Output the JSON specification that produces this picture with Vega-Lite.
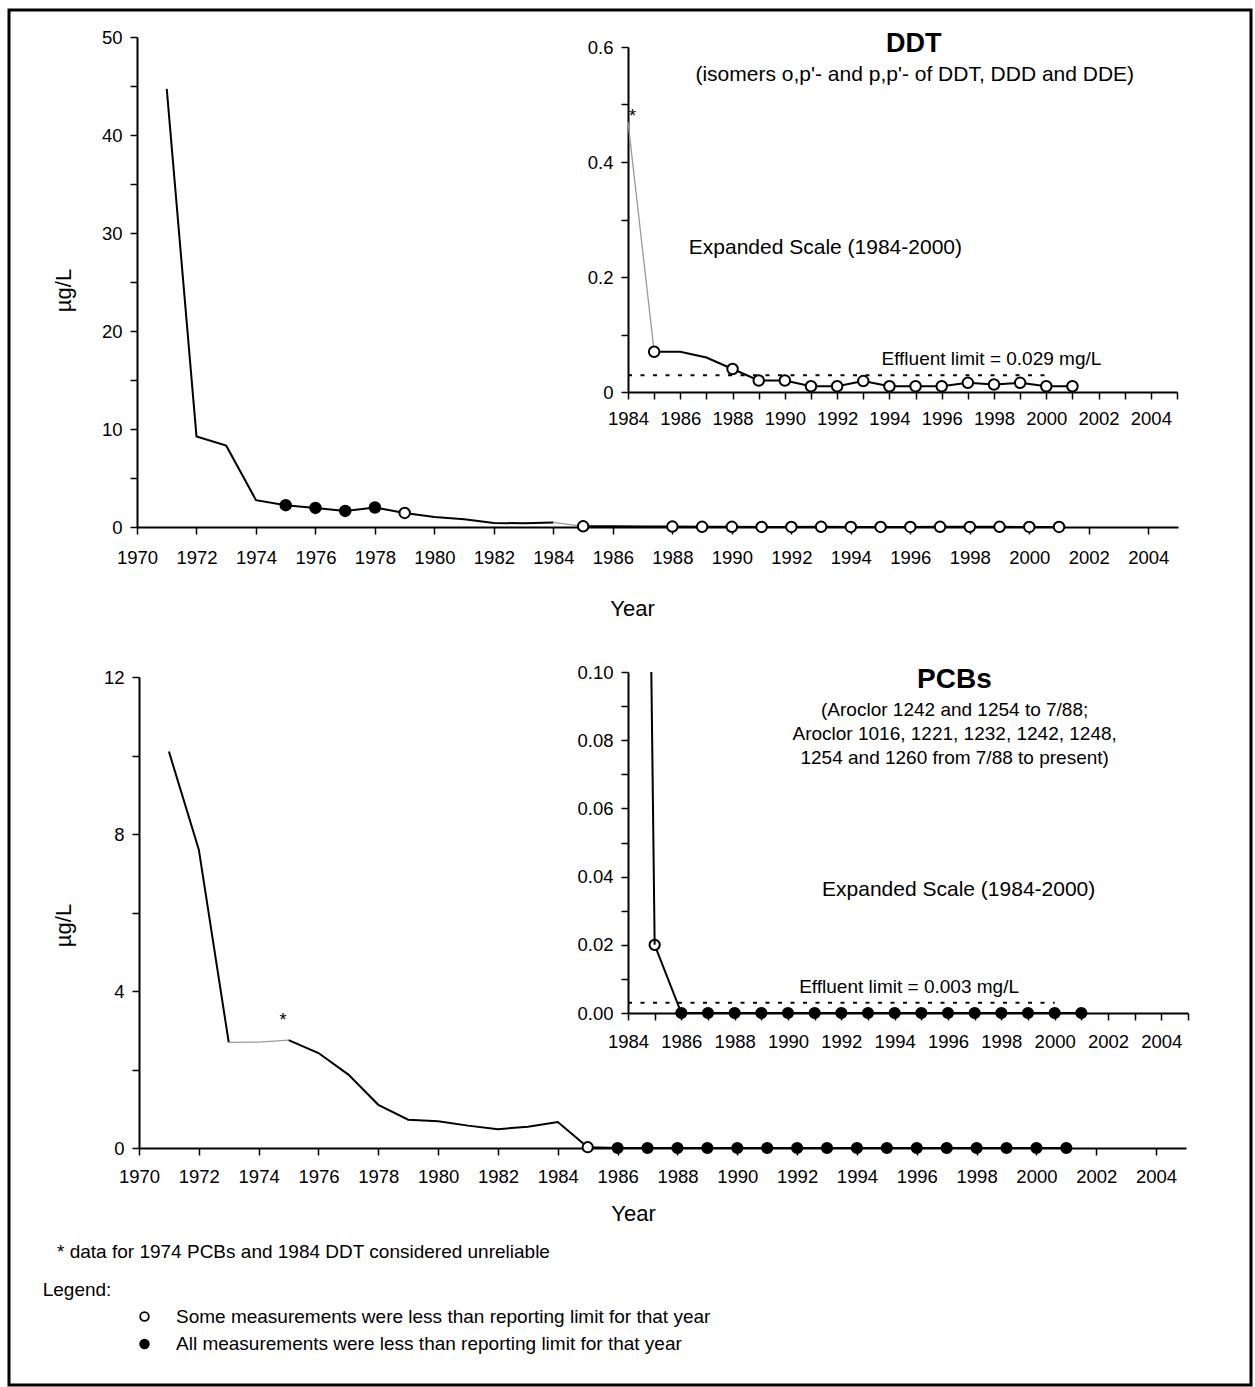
{
  "$schema": "https://vega.github.io/schema/vega-lite/v6.json",
  "autosize": {"type": "none"},
  "padding": {"left": 9, "top": 10, "right": 4, "bottom": 2},
  "width": 1242,
  "height": 1375,
  "background": "white",
  "config": {
    "font": "Liberation Sans",
    "view": {"stroke": "black", "strokeWidth": 3},
    "axis": {
      "grid": false, "domainColor": "black", "domainWidth": 2, "tickColor": "black", "tickWidth": 1.5, "tickSize": 7,
      "labelColor": "black", "labelFont": "Liberation Sans", "labelFontSize": 18.5, "labelFlush": false, "labelOverlap": false,
      "labelBound": false, "titleColor": "black", "titleFont": "Liberation Sans", "titleFontSize": 22, "titleFontWeight": "normal"
    },
    "axisY": {"labelPadding": 8},
    "text": {"font": "Liberation Sans", "color": "black"}
  },
  "datasets": {
    "ddt": [
      {"year": 1971, "value": 44.7, "part": 1, "quality": "reliable", "status": ""},
      {"year": 1972, "value": 9.24, "part": 1, "quality": "reliable", "status": ""},
      {"year": 1973, "value": 8.3, "part": 1, "quality": "reliable", "status": ""},
      {"year": 1974, "value": 2.74, "part": 1, "quality": "reliable", "status": ""},
      {"year": 1975, "value": 2.23, "part": 1, "quality": "reliable", "status": "all"},
      {"year": 1976, "value": 1.95, "part": 1, "quality": "reliable", "status": "all"},
      {"year": 1977, "value": 1.64, "part": 1, "quality": "reliable", "status": "all"},
      {"year": 1978, "value": 1.99, "part": 1, "quality": "reliable", "status": "all"},
      {"year": 1979, "value": 1.44, "part": 1, "quality": "reliable", "status": "some"},
      {"year": 1980, "value": 1.03, "part": 1, "quality": "reliable", "status": ""},
      {"year": 1981, "value": 0.79, "part": 1, "quality": "reliable", "status": ""},
      {"year": 1982, "value": 0.41, "part": 1, "quality": "reliable", "status": ""},
      {"year": 1983, "value": 0.38, "part": 1, "quality": "reliable", "status": ""},
      {"year": 1984, "value": 0.47, "part": 1, "quality": "reliable", "status": ""},
      {"year": 1984, "value": 0.47, "part": 2, "quality": "unreliable", "status": ""},
      {"year": 1985, "value": 0.07, "part": 2, "quality": "unreliable", "status": ""},
      {"year": 1985, "value": 0.07, "part": 3, "quality": "reliable", "status": "some"},
      {"year": 1986, "value": 0.07, "part": 3, "quality": "reliable", "status": ""},
      {"year": 1987, "value": 0.06, "part": 3, "quality": "reliable", "status": ""},
      {"year": 1988, "value": 0.04, "part": 3, "quality": "reliable", "status": "some"},
      {"year": 1989, "value": 0.02, "part": 3, "quality": "reliable", "status": "some"},
      {"year": 1990, "value": 0.02, "part": 3, "quality": "reliable", "status": "some"},
      {"year": 1991, "value": 0.01, "part": 3, "quality": "reliable", "status": "some"},
      {"year": 1992, "value": 0.01, "part": 3, "quality": "reliable", "status": "some"},
      {"year": 1993, "value": 0.019, "part": 3, "quality": "reliable", "status": "some"},
      {"year": 1994, "value": 0.01, "part": 3, "quality": "reliable", "status": "some"},
      {"year": 1995, "value": 0.01, "part": 3, "quality": "reliable", "status": "some"},
      {"year": 1996, "value": 0.01, "part": 3, "quality": "reliable", "status": "some"},
      {"year": 1997, "value": 0.016, "part": 3, "quality": "reliable", "status": "some"},
      {"year": 1998, "value": 0.013, "part": 3, "quality": "reliable", "status": "some"},
      {"year": 1999, "value": 0.016, "part": 3, "quality": "reliable", "status": "some"},
      {"year": 2000, "value": 0.01, "part": 3, "quality": "reliable", "status": "some"},
      {"year": 2001, "value": 0.01, "part": 3, "quality": "reliable", "status": "some"}
    ],
    "pcb": [
      {"year": 1971, "value": 10.1, "part": 1, "quality": "reliable", "status": ""},
      {"year": 1972, "value": 7.6, "part": 1, "quality": "reliable", "status": ""},
      {"year": 1973, "value": 2.69, "part": 1, "quality": "reliable", "status": ""},
      {"year": 1973, "value": 2.69, "part": 2, "quality": "unreliable", "status": ""},
      {"year": 1974, "value": 2.7, "part": 2, "quality": "unreliable", "status": ""},
      {"year": 1975, "value": 2.75, "part": 2, "quality": "unreliable", "status": ""},
      {"year": 1975, "value": 2.75, "part": 3, "quality": "reliable", "status": ""},
      {"year": 1976, "value": 2.42, "part": 3, "quality": "reliable", "status": ""},
      {"year": 1977, "value": 1.87, "part": 3, "quality": "reliable", "status": ""},
      {"year": 1978, "value": 1.1, "part": 3, "quality": "reliable", "status": ""},
      {"year": 1979, "value": 0.72, "part": 3, "quality": "reliable", "status": ""},
      {"year": 1980, "value": 0.68, "part": 3, "quality": "reliable", "status": ""},
      {"year": 1981, "value": 0.57, "part": 3, "quality": "reliable", "status": ""},
      {"year": 1982, "value": 0.48, "part": 3, "quality": "reliable", "status": ""},
      {"year": 1983, "value": 0.54, "part": 3, "quality": "reliable", "status": ""},
      {"year": 1984, "value": 0.66, "part": 3, "quality": "reliable", "status": ""},
      {"year": 1985, "value": 0.02, "part": 3, "quality": "reliable", "status": "some"},
      {"year": 1986, "value": 0, "part": 3, "quality": "reliable", "status": "all"},
      {"year": 1987, "value": 0, "part": 3, "quality": "reliable", "status": "all"},
      {"year": 1988, "value": 0, "part": 3, "quality": "reliable", "status": "all"},
      {"year": 1989, "value": 0, "part": 3, "quality": "reliable", "status": "all"},
      {"year": 1990, "value": 0, "part": 3, "quality": "reliable", "status": "all"},
      {"year": 1991, "value": 0, "part": 3, "quality": "reliable", "status": "all"},
      {"year": 1992, "value": 0, "part": 3, "quality": "reliable", "status": "all"},
      {"year": 1993, "value": 0, "part": 3, "quality": "reliable", "status": "all"},
      {"year": 1994, "value": 0, "part": 3, "quality": "reliable", "status": "all"},
      {"year": 1995, "value": 0, "part": 3, "quality": "reliable", "status": "all"},
      {"year": 1996, "value": 0, "part": 3, "quality": "reliable", "status": "all"},
      {"year": 1997, "value": 0, "part": 3, "quality": "reliable", "status": "all"},
      {"year": 1998, "value": 0, "part": 3, "quality": "reliable", "status": "all"},
      {"year": 1999, "value": 0, "part": 3, "quality": "reliable", "status": "all"},
      {"year": 2000, "value": 0, "part": 3, "quality": "reliable", "status": "all"},
      {"year": 2001, "value": 0, "part": 3, "quality": "reliable", "status": "all"}
    ]
  },
  "resolve": {"scale": {"x": "independent", "y": "independent"}, "axis": {"x": "independent", "y": "independent"}},
  "layer": [
    {
      "layer": [
        {"data": {"name": "ddt"}, "transform": [{"filter": "datum.quality == 'reliable'"}], "mark": {"type": "line", "color": "black", "strokeWidth": 2},
          "encoding": {
            "x": {"field": "year", "type": "quantitative", "scale": {"domain": [1970, 2005], "range": [128, 1169]},
              "axis": {"orient": "bottom", "offset": -858, "labelPadding": 14, "values": [1970,1971,1972,1973,1974,1975,1976,1977,1978,1979,1980,1981,1982,1983,1984,1985,1986,1987,1988,1989,1990,1991,1992,1993,1994,1995,1996,1997,1998,1999,2000,2001,2002,2003,2004,2005],
                "format": "d", "labelExpr": "datum.value % 2 == 0 && datum.value < 2005 ? datum.label : ''", "title": "Year", "titleX": 623, "titleY": 81, "titleBaseline": "middle", "titleAlign": "center"}},
            "y": {"field": "value", "type": "quantitative", "scale": {"domain": [0, 50], "range": [517, 27]},
              "axis": {"orient": "left", "offset": -128, "values": [0,5,10,15,20,25,30,35,40,45,50], "format": "d", "labelExpr": "datum.value % 10 == 0 ? datum.label : ''",
                "title": "µg/L", "titleX": -74, "titleY": 280, "titleAngle": 270, "titleAlign": "center", "titleBaseline": "middle"}},
            "detail": {"field": "part"}}},
        {"data": {"name": "ddt"}, "transform": [{"filter": "datum.quality == 'unreliable'"}], "mark": {"type": "line", "color": "#999999", "strokeWidth": 1.3},
          "encoding": {
            "x": {"field": "year", "type": "quantitative", "scale": {"domain": [1970, 2005], "range": [128, 1169]}},
            "y": {"field": "value", "type": "quantitative", "scale": {"domain": [0, 50], "range": [517, 27]}},
            "detail": {"field": "part"}}},
        {"data": {"name": "ddt"}, "transform": [{"filter": "datum.status != ''"}], "mark": {"type": "point", "filled": true, "size": 110, "stroke": "black", "strokeWidth": 2, "opacity": 1},
          "encoding": {
            "x": {"field": "year", "type": "quantitative", "scale": {"domain": [1970, 2005], "range": [128, 1169]}},
            "y": {"field": "value", "type": "quantitative", "scale": {"domain": [0, 50], "range": [517, 27]}},
            "fill": {"field": "status", "type": "nominal", "scale": {"domain": ["some", "all"], "range": ["white", "black"]},
              "legend": {"title": null, "orient": "none", "legendX": 126, "legendY": 1297, "padding": 0, "symbolType": "circle", "symbolSize": 75, "symbolStrokeColor": "black", "symbolStrokeWidth": 1.8,
                "labelFontSize": 19, "labelFont": "Liberation Sans", "labelColor": "black", "labelOffset": 22, "labelLimit": 900, "rowPadding": 7.5,
                "labelExpr": "datum.value == 'some' ? 'Some measurements were less than reporting limit for that year' : 'All measurements were less than reporting limit for that year'"}}}}
      ]
    },
    {
      "layer": [
        {"data": {"name": "ddt"}, "transform": [{"filter": "datum.year >= 1984 && datum.quality == 'reliable'"}], "mark": {"type": "line", "color": "black", "strokeWidth": 2},
          "encoding": {
            "x": {"field": "year", "type": "quantitative", "scale": {"domain": [1984, 2005], "range": [619, 1168]},
              "axis": {"orient": "bottom", "offset": -993, "labelPadding": 10.5, "values": [1984,1985,1986,1987,1988,1989,1990,1991,1992,1993,1994,1995,1996,1997,1998,1999,2000,2001,2002,2003,2004,2005],
                "format": "d", "labelExpr": "datum.value % 2 == 0 && datum.value < 2005 ? datum.label : ''", "title": null}},
            "y": {"field": "value", "type": "quantitative", "scale": {"domain": [0, 0.6], "range": [382, 37]},
              "axis": {"orient": "left", "offset": -619, "values": [0,0.1,0.2,0.3,0.4,0.5,0.6], "format": "~g", "labelExpr": "indexof([0,0.2,0.4,0.6], datum.value) >= 0 ? datum.label : ''", "title": null}},
            "detail": {"field": "part"}}},
        {"data": {"name": "ddt"}, "transform": [{"filter": "datum.year >= 1984 && datum.quality == 'unreliable'"}], "mark": {"type": "line", "color": "#999999", "strokeWidth": 1.3},
          "encoding": {
            "x": {"field": "year", "type": "quantitative", "scale": {"domain": [1984, 2005], "range": [619, 1168]}},
            "y": {"field": "value", "type": "quantitative", "scale": {"domain": [0, 0.6], "range": [382, 37]}},
            "detail": {"field": "part"}}},
        {"data": {"values": [{}]}, "mark": {"type": "rule", "strokeDash": [4, 8.5], "strokeWidth": 2, "color": "black"},
          "encoding": {"x": {"datum": 1984, "type": "quantitative", "scale": {"domain": [1984, 2005], "range": [619, 1168]}}, "x2": {"datum": 2000},
            "y": {"datum": 0.029, "type": "quantitative", "scale": {"domain": [0, 0.6], "range": [382, 37]}}}},
        {"data": {"name": "ddt"}, "transform": [{"filter": "datum.year >= 1984 && datum.status != ''"}], "mark": {"type": "point", "filled": true, "size": 110, "stroke": "black", "strokeWidth": 2, "opacity": 1},
          "encoding": {
            "x": {"field": "year", "type": "quantitative", "scale": {"domain": [1984, 2005], "range": [619, 1168]}},
            "y": {"field": "value", "type": "quantitative", "scale": {"domain": [0, 0.6], "range": [382, 37]}},
            "fill": {"field": "status", "type": "nominal", "scale": {"domain": ["some", "all"], "range": ["white", "black"]}}}},
        {"data": {"values": [{}]}, "mark": {"type": "text", "text": "DDT", "fontSize": 27, "fontWeight": "bold", "align": "center", "baseline": "middle"},
          "encoding": {"x": {"datum": 1994.93, "type": "quantitative", "scale": {"domain": [1984, 2005], "range": [619, 1168]}}, "y": {"datum": 0.606, "type": "quantitative", "scale": {"domain": [0, 0.6], "range": [382, 37]}}}},
        {"data": {"values": [{}]}, "mark": {"type": "text", "text": "(isomers o,p'- and p,p'- of DDT, DDD and DDE)", "fontSize": 21, "align": "center", "baseline": "middle"},
          "encoding": {"x": {"datum": 1994.97, "type": "quantitative", "scale": {"domain": [1984, 2005], "range": [619, 1168]}}, "y": {"datum": 0.551, "type": "quantitative", "scale": {"domain": [0, 0.6], "range": [382, 37]}}}},
        {"data": {"values": [{}]}, "mark": {"type": "text", "text": "Expanded Scale (1984-2000)", "fontSize": 21, "align": "center", "baseline": "middle"},
          "encoding": {"x": {"datum": 1991.55, "type": "quantitative", "scale": {"domain": [1984, 2005], "range": [619, 1168]}}, "y": {"datum": 0.2504, "type": "quantitative", "scale": {"domain": [0, 0.6], "range": [382, 37]}}}},
        {"data": {"values": [{}]}, "mark": {"type": "text", "text": "Effluent limit = 0.029 mg/L", "fontSize": 19, "align": "center", "baseline": "middle"},
          "encoding": {"x": {"datum": 1997.9, "type": "quantitative", "scale": {"domain": [1984, 2005], "range": [619, 1168]}}, "y": {"datum": 0.0574, "type": "quantitative", "scale": {"domain": [0, 0.6], "range": [382, 37]}}}},
        {"data": {"values": [{}]}, "mark": {"type": "text", "text": "*", "fontSize": 18, "align": "center", "baseline": "alphabetic"},
          "encoding": {"x": {"datum": 1984.17, "type": "quantitative", "scale": {"domain": [1984, 2005], "range": [619, 1168]}}, "y": {"datum": 0.47, "type": "quantitative", "scale": {"domain": [0, 0.6], "range": [382, 37]}}}}
      ]
    },
    {
      "layer": [
        {"data": {"name": "pcb"}, "transform": [{"filter": "datum.quality == 'reliable'"}], "mark": {"type": "line", "color": "black", "strokeWidth": 2},
          "encoding": {
            "x": {"field": "year", "type": "quantitative", "scale": {"domain": [1970, 2005], "range": [130, 1177]},
              "axis": {"orient": "bottom", "offset": -237, "labelPadding": 12.5, "values": [1970,1971,1972,1973,1974,1975,1976,1977,1978,1979,1980,1981,1982,1983,1984,1985,1986,1987,1988,1989,1990,1991,1992,1993,1994,1995,1996,1997,1998,1999,2000,2001,2002,2003,2004,2005],
                "format": "d", "labelExpr": "datum.value % 2 == 0 && datum.value < 2005 ? datum.label : ''", "title": "Year", "titleX": 624, "titleY": 65, "titleBaseline": "middle", "titleAlign": "center"}},
            "y": {"field": "value", "type": "quantitative", "scale": {"domain": [0, 12], "range": [1138, 667]},
              "axis": {"orient": "left", "offset": -130, "values": [0,2,4,6,8,10,12], "format": "d", "labelExpr": "datum.value % 4 == 0 ? datum.label : ''",
                "title": "µg/L", "titleX": -76, "titleY": 915, "titleAngle": 270, "titleAlign": "center", "titleBaseline": "middle"}},
            "detail": {"field": "part"}}},
        {"data": {"name": "pcb"}, "transform": [{"filter": "datum.quality == 'unreliable'"}], "mark": {"type": "line", "color": "#9a9a9a", "strokeWidth": 1.3},
          "encoding": {
            "x": {"field": "year", "type": "quantitative", "scale": {"domain": [1970, 2005], "range": [130, 1177]}},
            "y": {"field": "value", "type": "quantitative", "scale": {"domain": [0, 12], "range": [1138, 667]}},
            "detail": {"field": "part"}}},
        {"data": {"name": "pcb"}, "transform": [{"filter": "datum.status != ''"}], "mark": {"type": "point", "filled": true, "size": 105, "stroke": "black", "strokeWidth": 2, "opacity": 1},
          "encoding": {
            "x": {"field": "year", "type": "quantitative", "scale": {"domain": [1970, 2005], "range": [130, 1177]}},
            "y": {"field": "value", "type": "quantitative", "scale": {"domain": [0, 12], "range": [1138, 667]}},
            "fill": {"field": "status", "type": "nominal", "scale": {"domain": ["some", "all"], "range": ["white", "black"]}}}},
        {"data": {"values": [{}]}, "mark": {"type": "text", "text": "*", "fontSize": 18, "align": "center", "baseline": "alphabetic"},
          "encoding": {"x": {"datum": 1974.81, "type": "quantitative", "scale": {"domain": [1970, 2005], "range": [130, 1177]}}, "y": {"datum": 3.1, "type": "quantitative", "scale": {"domain": [0, 12], "range": [1138, 667]}}}},
        {"data": {"values": [{}]}, "mark": {"type": "text", "text": "* data for 1974 PCBs and 1984 DDT considered unreliable", "fontSize": 19, "align": "left", "baseline": "middle"},
          "encoding": {"x": {"datum": 1967.26, "type": "quantitative", "scale": {"domain": [1970, 2005], "range": [130, 1177]}}, "y": {"datum": -2.642, "type": "quantitative", "scale": {"domain": [0, 12], "range": [1138, 667]}}}},
        {"data": {"values": [{}]}, "mark": {"type": "text", "text": "Legend:", "fontSize": 19, "align": "left", "baseline": "middle"},
          "encoding": {"x": {"datum": 1966.78, "type": "quantitative", "scale": {"domain": [1970, 2005], "range": [130, 1177]}}, "y": {"datum": -3.618, "type": "quantitative", "scale": {"domain": [0, 12], "range": [1138, 667]}}}}
      ]
    },
    {
      "layer": [
        {"data": {"name": "pcb"}, "transform": [{"filter": "datum.year >= 1985 && datum.quality == 'reliable'"}], "mark": {"type": "line", "color": "black", "strokeWidth": 2},
          "encoding": {
            "x": {"field": "year", "type": "quantitative", "scale": {"domain": [1984, 2005], "range": [619, 1179]},
              "axis": {"orient": "bottom", "offset": -372, "labelPadding": 12.5, "values": [1984,1985,1986,1987,1988,1989,1990,1991,1992,1993,1994,1995,1996,1997,1998,1999,2000,2001,2002,2003,2004,2005],
                "format": "d", "labelExpr": "datum.value % 2 == 0 && datum.value < 2005 ? datum.label : ''", "title": null}},
            "y": {"field": "value", "type": "quantitative", "scale": {"domain": [0, 0.1], "range": [1003, 662]},
              "axis": {"orient": "left", "offset": -619, "values": [0,0.01,0.02,0.03,0.04,0.05,0.06,0.07,0.08,0.09,0.1], "format": ".2f", "labelExpr": "indexof([0,0.02,0.04,0.06,0.08,0.1], datum.value) >= 0 ? datum.label : ''", "title": null}},
            "detail": {"field": "part"}}},
        {"data": {"values": [{}]}, "mark": {"type": "rule", "strokeDash": [4, 8.5], "strokeWidth": 2, "color": "black"},
          "encoding": {"x": {"datum": 1984, "type": "quantitative", "scale": {"domain": [1984, 2005], "range": [619, 1179]}}, "x2": {"datum": 2000},
            "y": {"datum": 0.003, "type": "quantitative", "scale": {"domain": [0, 0.1], "range": [1003, 662]}}}},
        {"data": {"name": "pcb"}, "transform": [{"filter": "datum.year >= 1984 && datum.status != ''"}], "mark": {"type": "point", "filled": true, "size": 105, "stroke": "black", "strokeWidth": 2, "opacity": 1},
          "encoding": {
            "x": {"field": "year", "type": "quantitative", "scale": {"domain": [1984, 2005], "range": [619, 1179]}},
            "y": {"field": "value", "type": "quantitative", "scale": {"domain": [0, 0.1], "range": [1003, 662]}},
            "fill": {"field": "status", "type": "nominal", "scale": {"domain": ["some", "all"], "range": ["white", "black"]}}}},
        {"data": {"values": [{}]}, "mark": {"type": "text", "text": "PCBs", "fontSize": 28, "fontWeight": "bold", "align": "center", "baseline": "middle"},
          "encoding": {"x": {"datum": 1996.24, "type": "quantitative", "scale": {"domain": [1984, 2005], "range": [619, 1179]}}, "y": {"datum": 0.09765, "type": "quantitative", "scale": {"domain": [0, 0.1], "range": [1003, 662]}}}},
        {"data": {"values": [{}]}, "mark": {"type": "text", "text": ["(Aroclor 1242 and 1254 to 7/88;", "Aroclor 1016, 1221, 1232, 1242, 1248,", "1254 and 1260 from 7/88 to present)"], "fontSize": 19, "lineHeight": 24, "align": "center", "baseline": "middle"},
          "encoding": {"x": {"datum": 1996.25, "type": "quantitative", "scale": {"domain": [1984, 2005], "range": [619, 1179]}}, "y": {"datum": 0.08886, "type": "quantitative", "scale": {"domain": [0, 0.1], "range": [1003, 662]}}}},
        {"data": {"values": [{}]}, "mark": {"type": "text", "text": "Expanded Scale (1984-2000)", "fontSize": 21, "align": "center", "baseline": "middle"},
          "encoding": {"x": {"datum": 1996.4, "type": "quantitative", "scale": {"domain": [1984, 2005], "range": [619, 1179]}}, "y": {"datum": 0.03607, "type": "quantitative", "scale": {"domain": [0, 0.1], "range": [1003, 662]}}}},
        {"data": {"values": [{}]}, "mark": {"type": "text", "text": "Effluent limit = 0.003 mg/L", "fontSize": 19, "align": "center", "baseline": "middle"},
          "encoding": {"x": {"datum": 1994.54, "type": "quantitative", "scale": {"domain": [1984, 2005], "range": [619, 1179]}}, "y": {"datum": 0.00771, "type": "quantitative", "scale": {"domain": [0, 0.1], "range": [1003, 662]}}}}
      ]
    },
    {
      "layer": [
        {"data": {"name": "pcb"}, "transform": [{"filter": "datum.year >= 1984 && datum.year <= 1985"}], "mark": {"type": "line", "color": "black", "strokeWidth": 2},
          "encoding": {
            "x": {"field": "year", "type": "quantitative", "scale": {"domain": [1984.875, 2005], "range": [642.33, 1179], "clamp": true}, "axis": null},
            "y": {"field": "value", "type": "quantitative", "scale": {"domain": [0, 0.1], "range": [1003, 662], "clamp": true}, "axis": null}}}
      ]
    }
  ]
}
